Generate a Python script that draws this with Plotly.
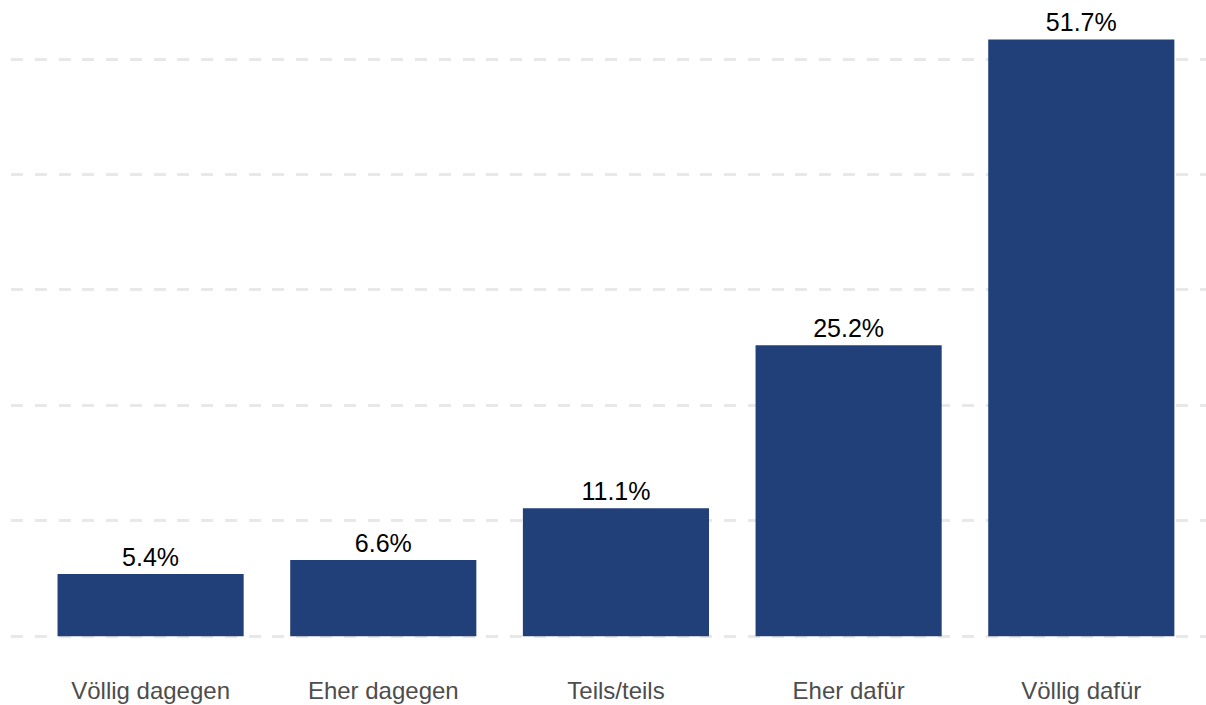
import plotly.graph_objects as go

# Survey answers and their shares in percent
categories = ["Völlig dagegen", "Eher dagegen", "Teils/teils", "Eher dafür", "Völlig dafür"]
shares = [5.4, 6.6, 11.1, 25.2, 51.7]
share_labels = [f"{v:.1f}%" for v in shares]

BAR_COLOR = "#21407A"
FONT = "Liberation Sans, Arial, sans-serif"

fig = go.Figure(
    go.Bar(
        x=categories,
        y=shares,
        text=share_labels,
        textposition="outside",
        textfont=dict(family=FONT, size=25, color="#000000"),
        constraintext="none",
        cliponaxis=False,
        marker=dict(color=BAR_COLOR, line=dict(width=0)),
        width=0.8,
        hoverinfo="skip",
    )
)

fig.update_layout(
    width=1206,
    height=705,
    margin=dict(l=11, r=0, t=10, b=67),
    paper_bgcolor="white",
    plot_bgcolor="white",
    showlegend=False,
    font=dict(family=FONT),
)

fig.update_xaxes(
    range=[-0.6, 4.536],
    showgrid=False,
    showline=False,
    zeroline=False,
    ticks="outside",
    ticklen=31,
    tickcolor="rgba(0,0,0,0)",
    tickfont=dict(family=FONT, size=24, color="#4D4D4D"),
)

fig.update_yaxes(
    range=[-0.15, 54.25],
    tickvals=[0, 10, 20, 30, 40, 50],
    showticklabels=False,
    showgrid=True,
    gridcolor="#E8E8E8",
    gridwidth=2.7,
    griddash="12px,11.77px",
    zeroline=False,
    showline=False,
)

fig.write_html("out.html")
